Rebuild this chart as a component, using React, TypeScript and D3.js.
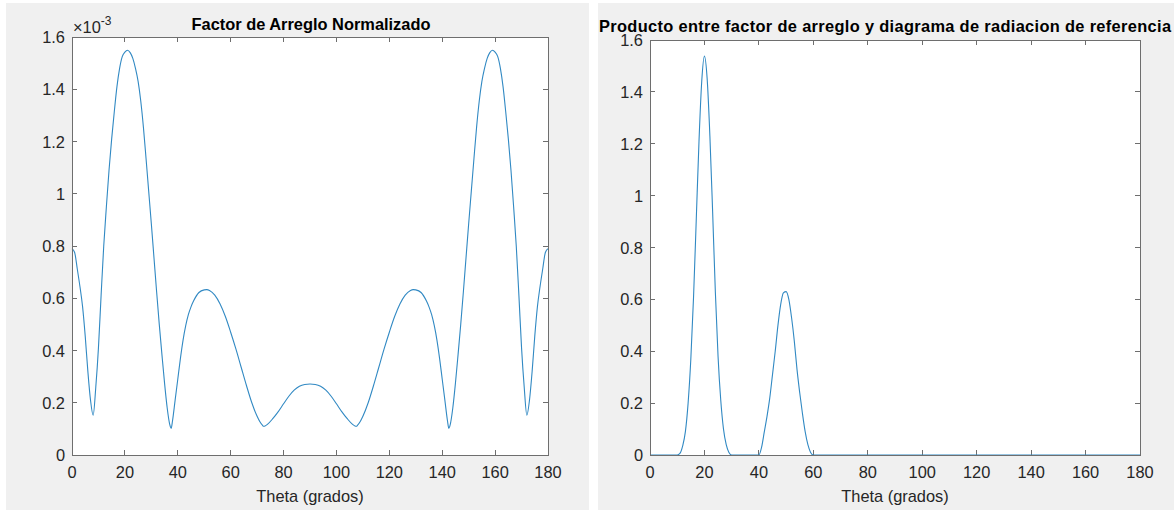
import React, { useEffect, useRef } from 'react';
import * as d3 from 'd3';

// Factor de arreglo normalizado (x1e-3), theta en grados
const afTheta = [
  0, 1, 2, 3, 4, 5, 6, 7, 8, 9, 10, 11, 12, 13, 14, 15, 16, 17, 18, 19, 20, 21, 22, 23, 24, 25, 26, 27, 28, 29,
  30, 31, 32, 33, 34, 35, 36, 37, 37.5, 38, 39, 40, 41, 42, 43, 44, 45, 46, 48, 50, 51, 52, 54, 56, 58, 60,
  62, 64, 66, 68, 70, 71, 72, 72.5, 73, 74, 76, 78, 80, 82, 84, 86, 88, 90,
  92, 94, 96, 98, 100, 102, 104, 106, 107, 107.5, 108, 109, 110, 112, 114, 116, 118, 120, 122, 124, 126,
  128, 129, 130, 132, 134, 135, 136, 137, 138, 139, 140, 141, 142, 142.5, 143, 144, 145, 146, 147, 148,
  149, 150, 151, 152, 153, 154, 155, 156, 157, 158, 159, 160, 161, 162, 163, 164, 165, 166, 167, 168, 169,
  170, 171, 172, 173, 174, 175, 176, 177, 178, 179, 180
];
const afValues = [
  0.790, 0.775, 0.712, 0.645, 0.568, 0.455, 0.320, 0.210, 0.152, 0.260, 0.410, 0.610, 0.800, 0.950, 1.090,
  1.210, 1.315, 1.410, 1.480, 1.525, 1.542, 1.549, 1.540, 1.518, 1.480, 1.430, 1.355, 1.255, 1.135, 1.010,
  0.885, 0.755, 0.625, 0.500, 0.385, 0.275, 0.180, 0.115, 0.102, 0.130, 0.210, 0.290, 0.370, 0.440, 0.495,
  0.537, 0.567, 0.590, 0.622, 0.632, 0.633, 0.630, 0.612, 0.578, 0.530, 0.470,
  0.405, 0.335, 0.265, 0.200, 0.148, 0.128, 0.114, 0.110, 0.111, 0.118, 0.140, 0.166, 0.196, 0.225, 0.248,
  0.263, 0.270, 0.272,
  0.270, 0.263, 0.248, 0.225, 0.196, 0.166, 0.140, 0.118, 0.111, 0.110, 0.114, 0.128, 0.148, 0.200, 0.265,
  0.335, 0.405, 0.470, 0.530, 0.578, 0.612,
  0.630, 0.633, 0.632, 0.622, 0.590, 0.567, 0.537, 0.495, 0.440, 0.370, 0.290, 0.210, 0.130, 0.102, 0.115,
  0.180, 0.275, 0.385, 0.500, 0.625,
  0.755, 0.885, 1.010, 1.135, 1.255, 1.355, 1.430, 1.480, 1.518, 1.540, 1.549, 1.542, 1.525, 1.480, 1.410,
  1.315, 1.210, 1.090, 0.950, 0.800, 0.610,
  0.410, 0.260, 0.152, 0.210, 0.320, 0.455, 0.568, 0.645, 0.712, 0.775, 0.790
];

// Producto con el diagrama de referencia
const prodTheta = [
  0, 10, 11, 12, 13, 14, 15, 16, 17, 18, 19, 20, 21, 22, 23, 24, 25, 26, 27, 28, 29, 30,
  40, 41, 42, 43, 44, 45, 46, 47, 48, 49, 50, 51, 52, 53, 54, 55, 56, 57, 58, 59, 60, 180
];
const prodValues = [
  0, 0, 0.006, 0.035, 0.09, 0.2, 0.37, 0.61, 0.91, 1.21, 1.44, 1.538, 1.45, 1.23, 0.94, 0.63, 0.38, 0.21,
  0.1, 0.04, 0.01, 0,
  0, 0.03, 0.09, 0.15, 0.22, 0.31, 0.40, 0.50, 0.58, 0.625, 0.630, 0.60, 0.53, 0.44, 0.33, 0.24, 0.16,
  0.09, 0.04, 0.01, 0, 0
];

const xTicks = [0, 20, 40, 60, 80, 100, 120, 140, 160, 180];
const yTicks = [0, 0.2, 0.4, 0.6, 0.8, 1, 1.2, 1.4, 1.6];

const FONT = '"Liberation Sans", Arial, Helvetica, sans-serif';
const TEXT = '#262626';
const AXIS = '#6e6e6e';
const LINE = '#3189c3';
const FS = 16.4;

function drawPanel(svg, opts) {
  const { bg, box, title, titleX, titleY, titleWidth, xs, ys, exponent } = opts;

  svg.append('rect')
    .attr('x', bg[0]).attr('y', bg[1])
    .attr('width', bg[2]).attr('height', bg[3])
    .attr('fill', '#f0f0f0');

  const x = d3.scaleLinear().domain([0, 180]).range([box[0], box[2]]);
  const y = d3.scaleLinear().domain([0, 1.6]).range([box[3], box[1]]);

  svg.append('rect')
    .attr('x', box[0]).attr('y', box[1])
    .attr('width', box[2] - box[0]).attr('height', box[3] - box[1])
    .attr('fill', '#fff');

  const tickLen = 5;
  const g = svg.append('g').attr('stroke', AXIS).attr('stroke-width', 1).attr('shape-rendering', 'crispEdges');
  xTicks.forEach(t => {
    g.append('line').attr('x1', x(t)).attr('x2', x(t)).attr('y1', box[3]).attr('y2', box[3] - tickLen);
    g.append('line').attr('x1', x(t)).attr('x2', x(t)).attr('y1', box[1]).attr('y2', box[1] + tickLen);
  });
  yTicks.forEach(t => {
    g.append('line').attr('x1', box[0]).attr('x2', box[0] + tickLen).attr('y1', y(t)).attr('y2', y(t));
    g.append('line').attr('x1', box[2]).attr('x2', box[2] - tickLen).attr('y1', y(t)).attr('y2', y(t));
  });

  const line = d3.line()
    .x((d, i) => x(xs[i]))
    .y(d => y(d))
    .curve(d3.curveMonotoneX);

  svg.append('path')
    .datum(ys)
    .attr('d', line)
    .attr('fill', 'none')
    .attr('stroke', LINE)
    .attr('stroke-width', 1.1);

  svg.append('rect')
    .attr('x', box[0] + 0.5).attr('y', box[1] + 0.5)
    .attr('width', box[2] - box[0]).attr('height', box[3] - box[1])
    .attr('fill', 'none')
    .attr('stroke', AXIS)
    .attr('shape-rendering', 'crispEdges');

  const labels = svg.append('g').attr('font-family', FONT).attr('font-size', FS).attr('fill', TEXT);
  xTicks.forEach(t => {
    labels.append('text').attr('x', x(t)).attr('y', box[3] + 23).attr('text-anchor', 'middle').text(t);
  });
  yTicks.forEach(t => {
    labels.append('text').attr('x', box[0] - 7).attr('y', y(t) + 6).attr('text-anchor', 'end').text(t);
  });
  labels.append('text')
    .attr('x', (box[0] + box[2]) / 2).attr('y', box[3] + 47)
    .attr('text-anchor', 'middle')
    .text('Theta (grados)');

  if (exponent) {
    const e = labels.append('text').attr('x', box[0] + 1).attr('y', box[1] - 4);
    e.append('tspan').text('\u00d710');
    e.append('tspan').attr('dy', -8).attr('font-size', 12).text('-3');
  }

  const tt = svg.append('text')
    .attr('x', titleX).attr('y', titleY)
    .attr('text-anchor', 'middle')
    .attr('font-family', FONT)
    .attr('font-weight', 'bold')
    .attr('font-size', FS)
    .attr('fill', '#000')
    .text(title);
  if (titleWidth) tt.attr('textLength', titleWidth).attr('lengthAdjust', 'spacing');
}

function Charts() {
  const ref = useRef(null);

  useEffect(() => {
    const svg = d3.select(ref.current);
    svg.selectAll('*').remove();

    drawPanel(svg, {
      bg: [6, 3, 583, 507],
      box: [72, 37, 548, 455],
      title: 'Factor de Arreglo Normalizado',
      titleX: 311, titleY: 30,
      xs: afTheta, ys: afValues,
      exponent: true
    });

    drawPanel(svg, {
      bg: [598, 3, 576, 507],
      box: [650, 40, 1140, 455],
      title: 'Producto entre factor de arreglo y diagrama de radiacion de referencia',
      titleX: 885, titleY: 32, titleWidth: 572,
      xs: prodTheta, ys: prodValues,
      exponent: false
    });
  }, []);

  return <svg ref={ref} width={1174} height={510} style={{ position: 'absolute', left: 0, top: 0, background: '#fff' }} />;
}

export default function App() {
  return <Charts />;
}
